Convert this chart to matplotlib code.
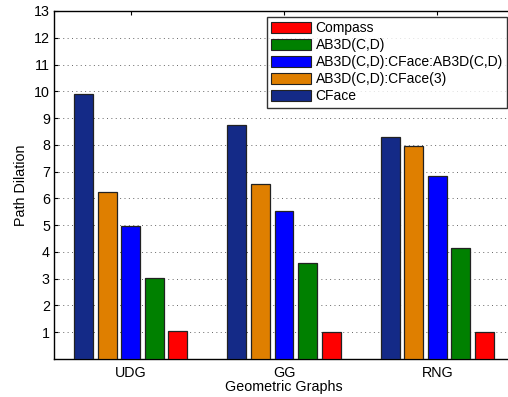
import matplotlib
matplotlib.use("Agg")
import matplotlib.pyplot as plt
import numpy as np
from matplotlib.patches import Patch

plt.rcParams['font.family'] = ['Liberation Sans', 'DejaVu Sans']

categories = ["UDG", "GG", "RNG"]
series_names = ["Compass", "AB3D(C,D)", "AB3D(C,D):CFace:AB3D(C,D)",
                "AB3D(C,D):CFace(3)", "CFace"]
compass = [1.03, 1.02, 1.01]
ab3d = [3.01, 3.60, 4.13]
ab3d_cface_ab3d = [4.98, 5.53, 6.85]
ab3d_cface3 = [6.25, 6.52, 7.97]
cface = [9.90, 8.74, 8.30]
colors = ["#ff0000", "#008000", "#0000ff", "#df7f00", "#142a87"]
yticks = list(range(1, 14))

series = [compass, ab3d, ab3d_cface_ab3d, ab3d_cface3, cface]

fig = plt.figure(figsize=(5.08, 3.97), dpi=100)
ax = fig.add_axes([54/508, 1-359/397, 460/508, 348/397])

x = np.arange(1, len(categories) + 1)
n = len(series)
groupw = min(0.8, n / (n + 1.5))
pitch = groupw / n
bw = pitch * 0.8
# drawn order left to right: CFace, CFace(3), CFace:AB3D, AB3D, Compass
for i, (vals, col) in enumerate(zip(series, colors)):
    pos = n - 1 - i
    offs = (pos - (n - 1) / 2) * pitch
    ax.bar(x + offs, vals, width=bw, color=col, edgecolor='#222222',
           linewidth=0.9, zorder=3)

fs = 10.3
ax.set_xlim(0.5, 3.5)
ax.set_ylim(0, 13)
ax.set_yticks(yticks)
ax.set_xticks(x)
ax.set_xticklabels(categories)
ax.yaxis.grid(True, linestyle=(0, (1, 3.5)), color='#666666', linewidth=0.7, zorder=0)
ax.set_axisbelow(True)
ax.tick_params(direction='in', top=True, right=False, length=3, labelsize=fs,
               width=0.8)
ax.tick_params(axis='y', pad=3)
ax.tick_params(axis='x', pad=5)
for s in ax.spines.values():
    s.set_linewidth(1.0)
ax.set_xlabel("Geometric Graphs", fontsize=fs, labelpad=0)
ax.set_ylabel("Path Dilation", fontsize=fs, labelpad=4)

handles = [Patch(facecolor=c, edgecolor='#222222', linewidth=0.8) for c in colors]
leg = fig.legend(handles, series_names, loc='upper right',
                 bbox_to_anchor=(507/508, 1-17/397), fontsize=10,
                 frameon=True, fancybox=False, edgecolor='black',
                 handlelength=2.9, handleheight=0.85, handletextpad=0.3,
                 labelspacing=0.22, borderpad=0.3, borderaxespad=0)
leg.get_frame().set_linewidth(1.0)

fig.savefig("out.png", dpi=100)
